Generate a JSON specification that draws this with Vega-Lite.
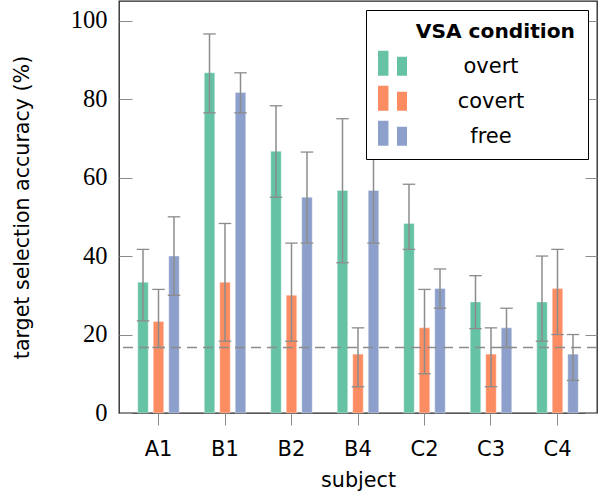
{
  "$schema": "https://vega.github.io/schema/vega-lite/v6.json",
  "width": 478,
  "height": 412,
  "autosize": "none",
  "padding": {"left": 119, "top": 1, "right": 2, "bottom": 79},
  "background": "white",
  "config": {
    "view": {"stroke": "#222", "strokeWidth": 1.3},
    "axis": {"grid": false, "domain": false, "tickColor": "#8c8c8c", "tickWidth": 1, "labelColor": "#000", "titleColor": "#000", "titleFontWeight": "normal"}
  },
  "datasets": {
    "acc": [
      {"subject": "A1", "condition": "overt", "acc": 33.3, "lo": 23.5, "hi": 41.7},
      {"subject": "A1", "condition": "covert", "acc": 23.3, "lo": 16.7, "hi": 31.5},
      {"subject": "A1", "condition": "free", "acc": 40.0, "lo": 30.0, "hi": 50.0},
      {"subject": "B1", "condition": "overt", "acc": 86.7, "lo": 76.5, "hi": 96.6},
      {"subject": "B1", "condition": "covert", "acc": 33.3, "lo": 18.3, "hi": 48.3},
      {"subject": "B1", "condition": "free", "acc": 81.7, "lo": 76.5, "hi": 86.7},
      {"subject": "B2", "condition": "overt", "acc": 66.7, "lo": 55.0, "hi": 78.3},
      {"subject": "B2", "condition": "covert", "acc": 30.0, "lo": 18.3, "hi": 43.3},
      {"subject": "B2", "condition": "free", "acc": 55.0, "lo": 43.3, "hi": 66.5},
      {"subject": "B4", "condition": "overt", "acc": 56.7, "lo": 38.3, "hi": 75.0},
      {"subject": "B4", "condition": "covert", "acc": 15.0, "lo": 6.7, "hi": 21.7},
      {"subject": "B4", "condition": "free", "acc": 56.7, "lo": 43.3, "hi": 70.0},
      {"subject": "C2", "condition": "overt", "acc": 48.3, "lo": 41.7, "hi": 58.3},
      {"subject": "C2", "condition": "covert", "acc": 21.7, "lo": 10.0, "hi": 31.5},
      {"subject": "C2", "condition": "free", "acc": 31.7, "lo": 26.7, "hi": 36.7},
      {"subject": "C3", "condition": "overt", "acc": 28.3, "lo": 21.5, "hi": 35.0},
      {"subject": "C3", "condition": "covert", "acc": 15.0, "lo": 6.7, "hi": 21.7},
      {"subject": "C3", "condition": "free", "acc": 21.7, "lo": 16.7, "hi": 26.7},
      {"subject": "C4", "condition": "overt", "acc": 28.3, "lo": 18.3, "hi": 40.0},
      {"subject": "C4", "condition": "covert", "acc": 31.7, "lo": 20.0, "hi": 41.7},
      {"subject": "C4", "condition": "free", "acc": 15.0, "lo": 8.3, "hi": 20.0}
    ],
    "chance": [{"chance": 16.67}]
  },
  "resolve": {"axis": {"y": "independent"}},
  "layer": [
    {
      "data": {"name": "acc"},
      "layer": [
        {
          "mark": {"type": "bar", "stroke": "white", "strokeOpacity": 0.35, "strokeWidth": 1},
          "encoding": {
            "x": {
              "field": "subject", "type": "nominal",
              "scale": {"paddingInner": 0.376, "paddingOuter": 0.282},
              "axis": {
                "title": "subject", "labelAngle": 0, "labelFont": "DejaVu Sans", "labelFontSize": 21,
                "tickSize": 12, "labelPadding": 13,
                "titleFont": "DejaVu Sans", "titleFontSize": 20.7, "titlePadding": 11
              }
            },
            "xOffset": {
              "field": "condition", "type": "nominal",
              "sort": ["overt", "covert", "free"],
              "scale": {"domain": ["overt", "covert", "free"], "paddingInner": 0.323, "paddingOuter": 0}
            },
            "y": {
              "field": "acc", "type": "quantitative",
              "scale": {"domain": [0, 105], "nice": false},
              "axis": {
                "title": "target selection accuracy (%)", "values": [0, 20, 40, 60, 80, 100],
                "labelFont": "Liberation Serif", "labelFontSize": 24.5, "tickSize": -13, "labelPadding": 25,
                "titleFont": "DejaVu Sans", "titleFontSize": 20.6, "titlePadding": 38
              }
            },
            "color": {
              "field": "condition", "type": "nominal",
              "scale": {"domain": ["overt", "covert", "free"], "range": ["#66c2a5", "#fc8d62", "#8da0cb"]},
              "legend": {
                "title": "VSA condition", "orient": "top-right", "offset": 9, "zindex": 1,
                "strokeColor": "#000", "fillColor": "#fff", "padding": 12,
                "titleFont": "DejaVu Sans", "titleFontSize": 20.2, "titleFontWeight": "bold", "titleColor": "#000",
                "titleAnchor": "end", "titlePadding": 10,
                "labelFont": "DejaVu Sans", "labelFontSize": 21, "labelColor": "#000",
                "labelAlign": "center", "labelOffset": 84,
                "symbolType": "M-1,-1.1H-0.28V0.62H-1Z M0.31,-0.69H1V0.62H0.31Z M12.6,0Z",
                "symbolSize": 841, "symbolStrokeWidth": 0, "symbolOpacity": 1,
                "rowPadding": 8
              }
            }
          }
        },
        {
          "mark": {"type": "rule", "color": "#8c8c8c", "strokeWidth": 1.5},
          "encoding": {
            "x": {"field": "subject", "type": "nominal"},
            "xOffset": {"field": "condition", "type": "nominal", "sort": ["overt", "covert", "free"]},
            "y": {"field": "lo", "type": "quantitative"},
            "y2": {"field": "hi"}
          }
        },
        {
          "mark": {"type": "tick", "color": "#8c8c8c", "size": 12.5, "thickness": 1.3, "opacity": 1},
          "encoding": {
            "x": {"field": "subject", "type": "nominal"},
            "xOffset": {"field": "condition", "type": "nominal", "sort": ["overt", "covert", "free"]},
            "y": {"field": "lo", "type": "quantitative"}
          }
        },
        {
          "mark": {"type": "tick", "color": "#8c8c8c", "size": 12.5, "thickness": 1.3, "opacity": 1},
          "encoding": {
            "x": {"field": "subject", "type": "nominal"},
            "xOffset": {"field": "condition", "type": "nominal", "sort": ["overt", "covert", "free"]},
            "y": {"field": "hi", "type": "quantitative"}
          }
        }
      ]
    },
    {
      "data": {"name": "chance"},
      "mark": {"type": "rule", "color": "#8c8c8c", "strokeWidth": 1.5, "strokeDash": [10, 6]},
      "encoding": {
        "y": {
          "field": "chance", "type": "quantitative",
          "axis": {"orient": "right", "labels": false, "title": null, "values": [0, 20, 40, 60, 80, 100], "tickSize": -12}
        }
      }
    }
  ]
}
